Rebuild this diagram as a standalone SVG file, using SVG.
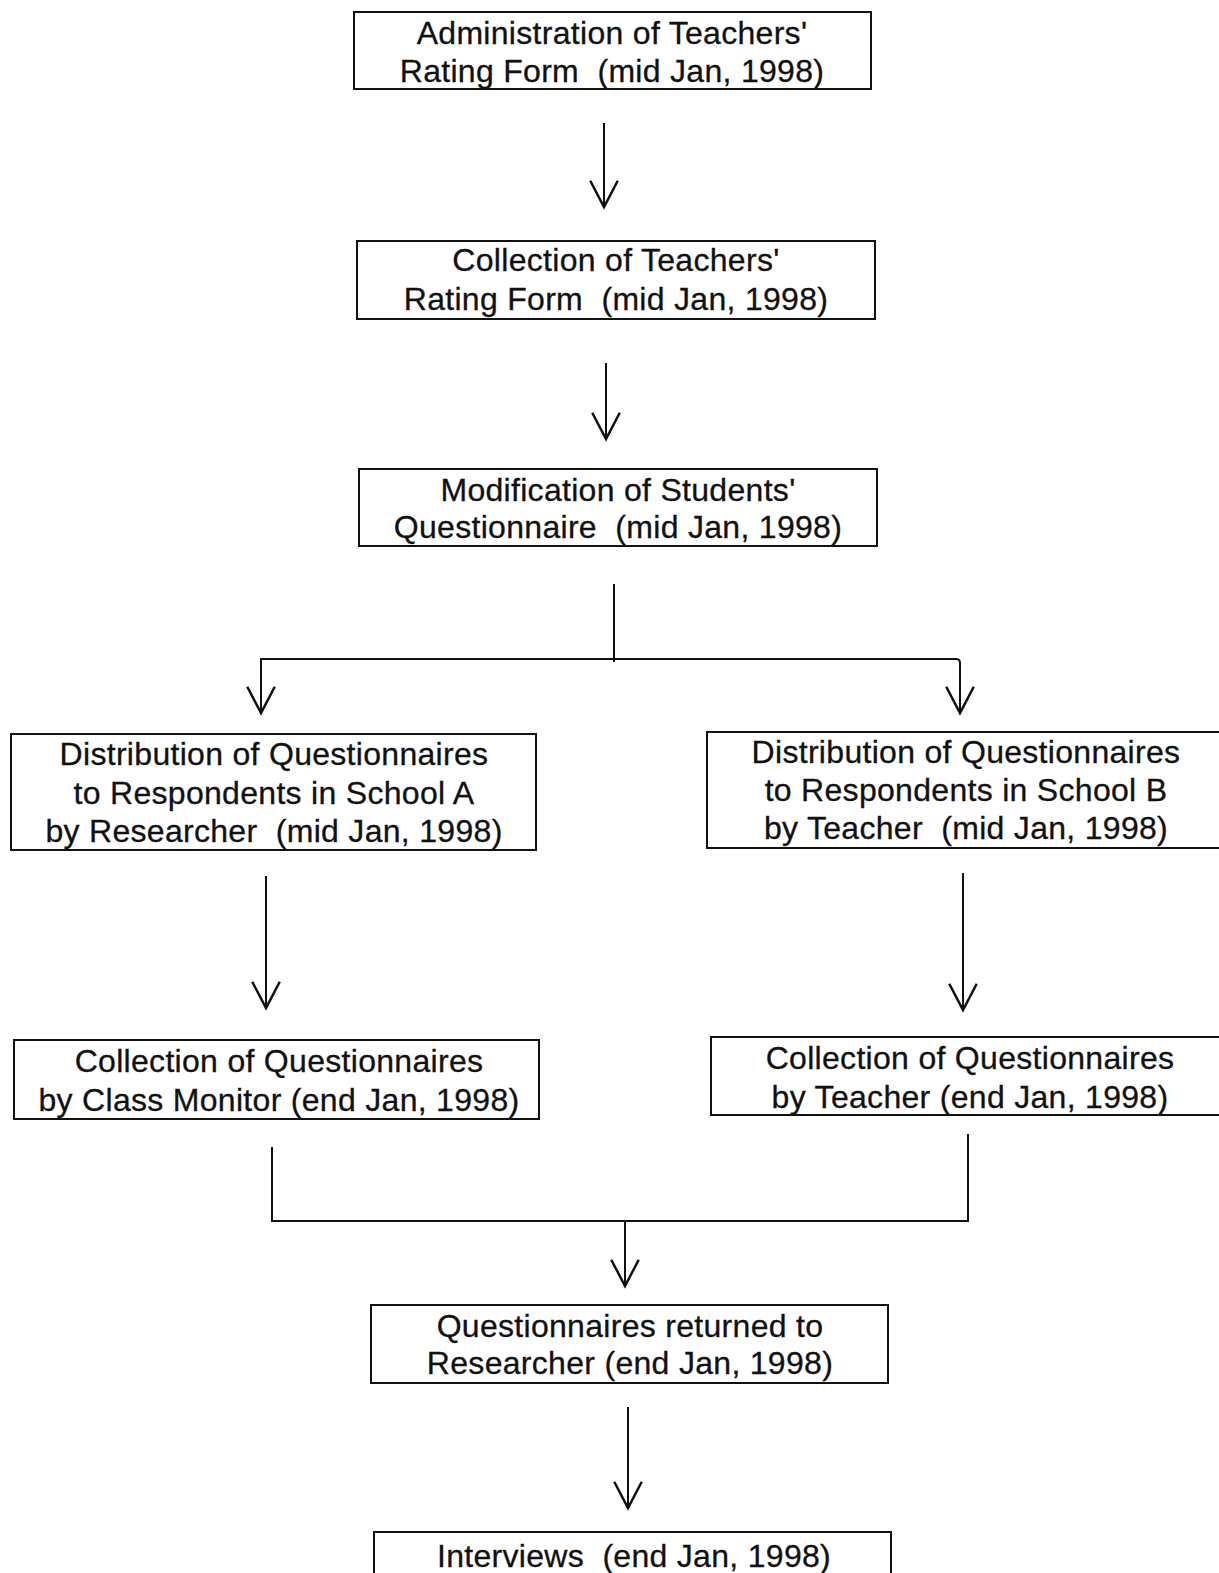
<svg xmlns="http://www.w3.org/2000/svg" width="1219" height="1573" viewBox="0 0 1219 1573">
<style>
.box{fill:#fff;stroke:#111;stroke-width:2}
.t{font-family:"Liberation Sans",Arial,sans-serif;font-size:32px;fill:#111;text-anchor:middle;letter-spacing:0.3px;white-space:pre;stroke:#111;stroke-width:0.3}
.c{fill:none;stroke:#111;stroke-width:2}
</style>
<defs>
<marker id="ah" markerUnits="userSpaceOnUse" markerWidth="30" markerHeight="30" viewBox="-22 -12 24 24" refX="0" refY="0" orient="auto" overflow="visible">
<path d="M-21,-11 L0,0 L-21,11" fill="none" stroke="#111" stroke-width="2"/>
</marker>
</defs>
<rect width="1219" height="1573" fill="#fff"/>
<g id="connectors">
<path class="c" d="M604,123 V207" marker-end="url(#ah)"/>
<path class="c" d="M606,363 V439" marker-end="url(#ah)"/>
<path class="c" d="M614,584 V662"/>
<path class="c" d="M261,713 V659 H956 Q960,659 960,663 V713" marker-end="url(#ah)"/>
<path class="c" d="M261,659 V713" marker-end="url(#ah)"/>
<path class="c" d="M266,876 V1008" marker-end="url(#ah)"/>
<path class="c" d="M963,873 V1010" marker-end="url(#ah)"/>
<path class="c" d="M272,1147 V1221 H968 V1134"/>
<path class="c" d="M625,1221 V1286" marker-end="url(#ah)"/>
<path class="c" d="M628,1407 V1508" marker-end="url(#ah)"/>
</g>
<g id="n1"><rect class="box" x="354" y="12" width="517" height="77"/>
<text class="t" x="612" y="44">Administration of Teachers'</text>
<text class="t" x="612" y="82">Rating Form  (mid Jan, 1998)</text></g>
<g id="n2"><rect class="box" x="357" y="241" width="518" height="78"/>
<text class="t" x="616" y="271">Collection of Teachers'</text>
<text class="t" x="616" y="310">Rating Form  (mid Jan, 1998)</text></g>
<g id="n3"><rect class="box" x="359" y="469" width="518" height="77"/>
<text class="t" x="618" y="501">Modification of Students'</text>
<text class="t" x="618" y="538">Questionnaire  (mid Jan, 1998)</text></g>
<g id="n4"><rect class="box" x="11" y="734" width="525" height="116"/>
<text class="t" x="274" y="765">Distribution of Questionnaires</text>
<text class="t" x="274" y="804">to Respondents in School A</text>
<text class="t" x="274" y="842">by Researcher  (mid Jan, 1998)</text></g>
<g id="n5"><rect class="box" x="707" y="732" width="530" height="116"/>
<text class="t" x="966" y="763">Distribution of Questionnaires</text>
<text class="t" x="966" y="801">to Respondents in School B</text>
<text class="t" x="966" y="839">by Teacher  (mid Jan, 1998)</text></g>
<g id="n6"><rect class="box" x="14" y="1040" width="525" height="79"/>
<text class="t" x="279" y="1072">Collection of Questionnaires</text>
<text class="t" x="279" y="1111">by Class Monitor (end Jan, 1998)</text></g>
<g id="n7"><rect class="box" x="711" y="1037" width="530" height="78"/>
<text class="t" x="970" y="1069">Collection of Questionnaires</text>
<text class="t" x="970" y="1108">by Teacher (end Jan, 1998)</text></g>
<g id="n8"><rect class="box" x="371" y="1305" width="517" height="78"/>
<text class="t" x="630" y="1337">Questionnaires returned to</text>
<text class="t" x="630" y="1374">Researcher (end Jan, 1998)</text></g>
<g id="n9"><rect class="box" x="374" y="1532" width="517" height="60"/>
<text class="t" x="634" y="1567">Interviews  (end Jan, 1998)</text></g>
</svg>
